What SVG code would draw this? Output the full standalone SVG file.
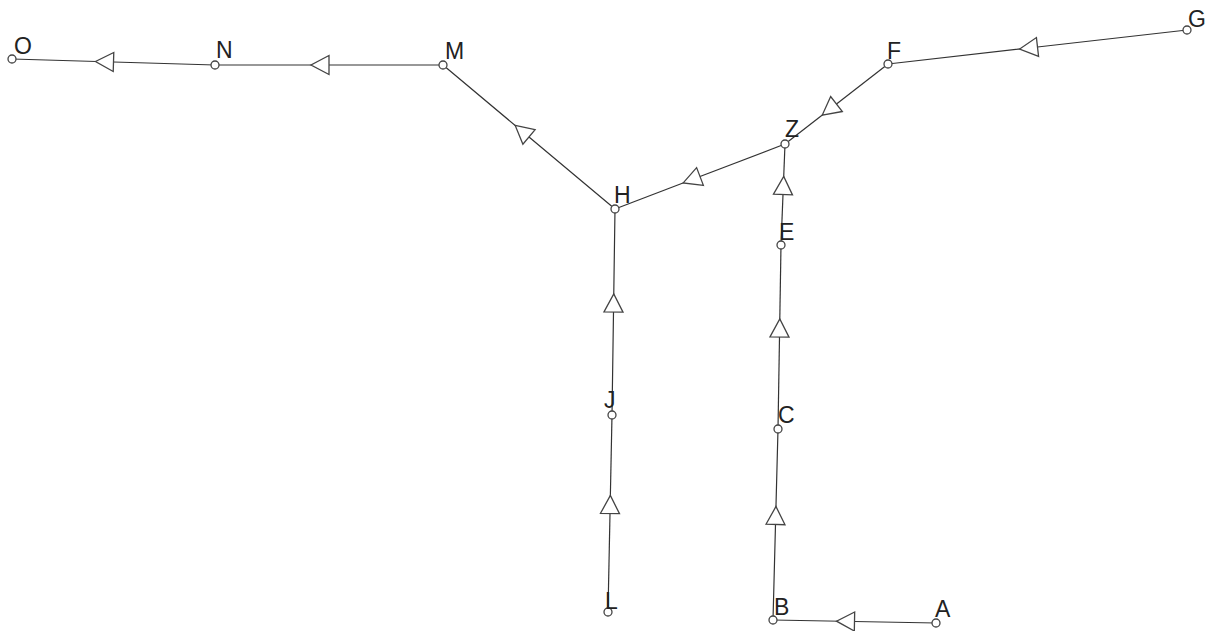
<svg xmlns="http://www.w3.org/2000/svg" width="1210" height="631" viewBox="0 0 1210 631">
<style>
.e{fill:none;stroke:#333;stroke-width:1.2;marker-mid:url(#tri)}
.n circle{fill:#fff;stroke:#444;stroke-width:1.3}
.n text{font-family:"Liberation Sans",Arial,sans-serif;font-size:23px;fill:#222}
</style>
<defs>
<marker id="tri" markerUnits="userSpaceOnUse" markerWidth="22" markerHeight="22" viewBox="-2 -11 22 22" refX="0" refY="0" orient="auto" overflow="visible">
<path d="M0,-9.5 L18,0 L0,9.5 Z" fill="#fff" stroke="#444" stroke-width="1.3"/>
</marker>
</defs>
<rect width="1210" height="631" fill="#fff"/>
<g id="connectors">
<polyline class="e" points="1187,30 1037.5,47 888,64"/>
<polyline class="e" points="888,64 836.5,104 785,144"/>
<polyline class="e" points="785,144 700,176.5 615,209"/>
<polyline class="e" points="615,209 529,137 443,65"/>
<polyline class="e" points="443,65 329,65 215,65"/>
<polyline class="e" points="215,65 113.5,62 12,59"/>
<polyline class="e" points="781,245 783,194.5 785,144"/>
<polyline class="e" points="778,429 779.5,337 781,245"/>
<polyline class="e" points="773,620 775.5,524.5 778,429"/>
<polyline class="e" points="936,623 854.5,621.5 773,620"/>
<polyline class="e" points="612,415 613.5,312 615,209"/>
<polyline class="e" points="608,612 610,513.5 612,415"/>
</g>
<g id="node-O" class="n"><circle cx="12" cy="59" r="4"/><text x="14" y="54">O</text></g>
<g id="node-N" class="n"><circle cx="215" cy="65" r="4"/><text x="216" y="58">N</text></g>
<g id="node-M" class="n"><circle cx="443" cy="65" r="4"/><text x="445" y="59">M</text></g>
<g id="node-H" class="n"><circle cx="615" cy="209" r="4"/><text x="614" y="203">H</text></g>
<g id="node-Z" class="n"><circle cx="785" cy="144" r="4"/><text x="785" y="137">Z</text></g>
<g id="node-F" class="n"><circle cx="888" cy="64" r="4"/><text x="887" y="59">F</text></g>
<g id="node-G" class="n"><circle cx="1187" cy="30" r="4"/><text x="1188" y="27">G</text></g>
<g id="node-E" class="n"><circle cx="781" cy="245" r="4"/><text x="779" y="240">E</text></g>
<g id="node-C" class="n"><circle cx="778" cy="429" r="4"/><text x="778" y="423">C</text></g>
<g id="node-B" class="n"><circle cx="773" cy="620" r="4"/><text x="774" y="615">B</text></g>
<g id="node-A" class="n"><circle cx="936" cy="623" r="4"/><text x="935" y="617">A</text></g>
<g id="node-J" class="n"><circle cx="612" cy="415" r="4"/><text x="604" y="408">J</text></g>
<g id="node-L" class="n"><circle cx="608" cy="612" r="4"/><text x="605" y="609">L</text></g>
</svg>
